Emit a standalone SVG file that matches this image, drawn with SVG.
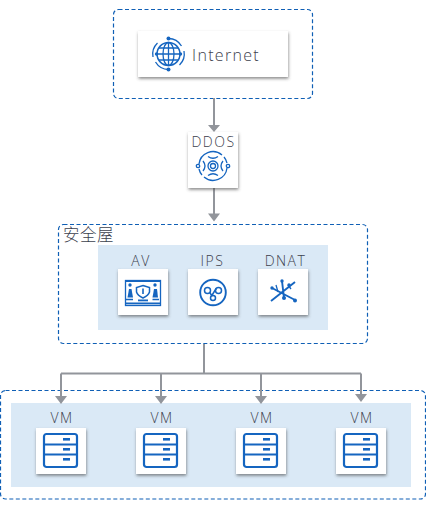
<svg xmlns="http://www.w3.org/2000/svg" width="426" height="514" viewBox="0 0 426 514">
<style>
.box{fill:#fff;stroke:#0f5fb5;stroke-width:1.200;stroke-dasharray:4 2.5}
.zone{fill:#dae9f6}
.card{fill:#fff;filter:url(#sh)}
.t{font-family:"Open Sans","Noto Sans CJK SC",sans-serif;font-size:14px;font-weight:300;fill:#3c414d;text-anchor:middle;letter-spacing:1.500px}
.c{fill:none;stroke:#92959b;stroke-width:2}
.h{fill:#92959b}
.i{fill:none;stroke:#1565c0;stroke-width:1.500}
.s{fill:none;stroke:#1565c0;stroke-width:1.300}
.m{fill:none;stroke:#1565c0;stroke-width:1.900}
.b{fill:none;stroke:#1565c0;stroke-width:2.200}
.f{fill:#1565c0}
</style>
<defs>
<filter id="sh" x="-20%" y="-20%" width="140%" height="150%"><feDropShadow dx="0.5" dy="1.8" stdDeviation="1.400" flood-color="#444" flood-opacity="0.6"/></filter>
<g id="vm">
<rect x="8" y="6" width="33" height="33" rx="2.500" class="b"/>
<path d="M8 16.500H41M8 26.500H41" class="b"/>
<rect x="27" y="10" width="7" height="2.600" class="f"/><rect x="27" y="20" width="7" height="2.600" class="f"/><rect x="27" y="30" width="7" height="2.600" class="f"/>
</g>
</defs>
<rect class="box" x="113.500" y="9.500" width="199" height="89" rx="5"/>
<rect class="box" x="58.500" y="224.500" width="309" height="119" rx="5"/>
<rect class="box" x="0.500" y="390.500" width="425" height="108.500" rx="5"/>
<rect class="zone" x="98" y="245" width="230" height="85"/>
<rect class="zone" x="11" y="403" width="400" height="84"/>
<g id="connectors">
<path class="c" d="M214 98V126M214 188V214M204 344V373.500M61 373.500H361M61 373.500V397M161 373.500V397M261 373.500V397M361 373.500V395"/>
<path class="h" d="M208 125H220L214 132ZM208 213.500H220L214 221.500ZM55 396H67L61 404ZM155 396H167L161 404ZM255 396H267L261 404ZM355 394H367L361 402Z"/>
</g>
<g id="internet">
<rect class="card" x="138" y="31" width="150" height="46"/>
<g transform="translate(168.500,54)">
<circle r="11.500" class="i"/><ellipse rx="5.500" ry="11.500" class="s"/><path d="M-13 0H13M0 -11.500V11.500M-9.500 -6H9.500M-9.500 6H9.500" class="s"/>
<path d="M0 -15.500A15.500 15.500 0 0 1 13 -8M0 15.500A15.500 15.500 0 0 1 -13 8M-15.500 3A15.500 15.500 0 0 1 -11 -11M15.500 -3A15.500 15.500 0 0 1 11 11" class="s"/>
<circle cx="0" cy="-15.500" r="2" class="f"/><circle cx="0" cy="15.500" r="2" class="f"/><circle cx="-12" cy="0" r="1.700" class="f"/><circle cx="12" cy="0" r="1.700" class="f"/>
</g>
<text class="t" x="226" y="60.500" style="font-size:16px;letter-spacing:1.300px">Internet</text>
</g>
<g id="ddos">
<rect class="card" x="188" y="132" width="50" height="56"/>
<text class="t" x="213.500" y="147">DDOS</text>
<g transform="translate(213,166)">
<path d="M-14 -2A14 14 0 0 1 9 -11M14 2A14 14 0 0 1 -9 11M-14 3A14 14 0 0 0 -11 9M14 -3A14 14 0 0 0 11 -9" class="s"/>
<circle r="5" class="s"/><circle r="2.500" class="s"/>
<path d="M-5 -9.500Q0 -6 5 -9.500M-5 9.500Q0 6 5 9.500M-10 -5Q-6 0 -10 5M10 -5Q6 0 10 5" class="s"/>
<circle cx="-15" cy="0" r="1.700" class="s"/><circle cx="15" cy="0" r="1.700" class="s"/>
</g>
</g>
<g id="zone-label"><text class="t" x="88.500" y="240.500" style="font-size:16.500px;letter-spacing:0.500px">安全屋</text></g>
<g id="av">
<text class="t" x="141" y="266">AV</text>
<rect class="card" x="118" y="269" width="50" height="46"/>
<g transform="translate(125,280)">
<rect x="0.500" y="0.500" width="35" height="25" class="s"/>
<rect x="0" y="0" width="35.500" height="2" class="f"/><rect x="0" y="22.500" width="35.500" height="1.800" class="f"/>
<path d="M18 5.500L24.500 7.500V12Q23.500 15.500 18 18Q12.500 15.500 11.500 12V7.500Z" class="i"/><rect x="17.200" y="8.500" width="1.600" height="5.500" class="f"/>
<rect x="13" y="19.500" width="10" height="1.800" class="f"/>
<circle cx="5" cy="5" r="1.700" class="f"/><circle cx="30" cy="5" r="1.700" class="f"/>
<path d="M2.500 17.500H8L6.500 9H4Z" class="f"/><path d="M27.500 17.500H33L32 9H29Z" class="f"/>
<path d="M1 19.500H8M27.500 19.500H34" class="s"/>
</g>
</g>
<g id="ips">
<text class="t" x="212.500" y="266">IPS</text>
<rect class="card" x="188" y="269" width="50" height="46"/>
<g transform="translate(213,292.500)">
<circle r="12.800" class="m"/>
<circle cx="-5.500" cy="-2" r="3" class="i"/><circle cx="5.500" cy="-2" r="3" class="i"/><circle cx="0" cy="5.500" r="2.500" class="i"/>
<path d="M-3.200 0L-1 3.500M3.200 -4L-1.500 3.500" class="i"/>
</g>
</g>
<g id="dnat">
<text class="t" x="285.500" y="266">DNAT</text>
<rect class="card" x="258" y="269" width="50" height="46"/>
<g transform="translate(283,292)">
<path d="M-12 9L12 -10M-11 -4L12 8M-1 -11L1 6" class="m"/>
<path d="M-7 -7L-5 0M5 -7L8 -3" class="s"/>
<circle cx="-1" cy="-11" r="1.700" class="f"/><circle cx="-11" cy="-4" r="1.700" class="f"/><circle cx="12" cy="8.500" r="2" class="f"/><circle cx="6" cy="-7" r="1.700" class="f"/><circle cx="1" cy="6" r="2" class="f"/>
</g>
</g>
<g id="vm1"><text class="t" x="62" y="423">VM</text><rect class="card" x="36" y="428" width="50" height="46"/><use href="#vm" x="36" y="428"/></g>
<g id="vm2"><text class="t" x="162" y="423">VM</text><rect class="card" x="136" y="428" width="50" height="46"/><use href="#vm" x="136" y="428"/></g>
<g id="vm3"><text class="t" x="262" y="423">VM</text><rect class="card" x="236" y="428" width="50" height="46"/><use href="#vm" x="236" y="428"/></g>
<g id="vm4"><text class="t" x="362" y="423">VM</text><rect class="card" x="336" y="428" width="50" height="46"/><use href="#vm" x="336" y="428"/></g>
</svg>
